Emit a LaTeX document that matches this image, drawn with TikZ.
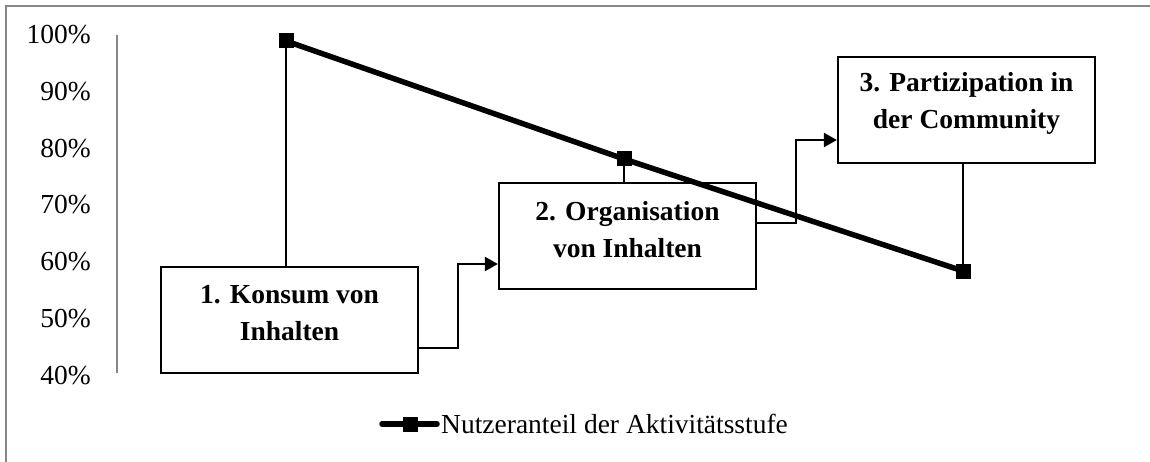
\documentclass[tikz,border=0pt]{standalone}
\usepackage{fontspec}
\setmainfont{Liberation Serif}
\usetikzlibrary{arrows.meta}
\tikzset{
  frameline/.style={draw=black!47, line width=2.2pt},
  axisline/.style={draw=black!47, line width=2.2pt},
  ticklab/.style={anchor=base east, inner sep=0pt, font=\fontsize{27.5}{33}\selectfont},
  stepbox/.style={draw=black, fill=white, line width=2.2pt, rectangle, minimum width=257pt, minimum height=106pt, inner sep=0pt},
  boxtext/.style={align=center, inner sep=0pt, font=\fontsize{27.5}{37}\selectfont\bfseries},
  dropline/.style={draw=black, line width=2.2pt},
  conn/.style={draw=black, line width=2.2pt, -{Triangle[length=13pt,width=14pt]}},
  dataline/.style={draw=black, line width=5.5pt},
  marker/.style={rectangle, fill=black, minimum size=15pt, inner sep=0pt},
  legline/.style={draw=black, line width=5.5pt, line cap=round},
  legtext/.style={anchor=base west, inner sep=0pt, font=\fontsize{27.5}{33}\selectfont}
}
\begin{document}
\begin{tikzpicture}[x=1pt,y=-1pt]
\useasboundingbox (0,0) rectangle (1150,462);
\fill[white] (0,0) rectangle (1150,462);
\draw[frameline] (6,6) rectangle (1170,480);
% axis
\draw[axisline] (117,35) -- (117,373);
\node[ticklab] (l100) at (91,44) {100\%};
\node[ticklab] (l90) at (91,100.7) {90\%};
\node[ticklab] (l80) at (91,157.3) {80\%};
\node[ticklab] (l70) at (91,214) {70\%};
\node[ticklab] (l60) at (91,270.7) {60\%};
\node[ticklab] (l50) at (91,327.3) {50\%};
\node[ticklab] (l40) at (91,384) {40\%};
% data points
\node[marker] (p1) at (286,41) {};
\node[marker] (p2) at (624,159) {};
\node[marker] (p3) at (963,271) {};
% boxes
\node[stepbox] (b1) at (289.5,320) {};
\node[stepbox] (b2) at (627.5,236) {};
\node[stepbox] (b3) at (966.5,110) {};
% drop lines
\draw[dropline] (p1.center) -- (p1.center |- b1.north);
\draw[dropline] (p2.center) -- (p2.center |- b2.north);
\draw[dropline] (p3.center) -- (p3.center |- b3.south);
% redraw boxes on top of drop lines
\node[stepbox] at (b1.center) {};
\node[stepbox] at (b2.center) {};
\node[stepbox] at (b3.center) {};
\node[boxtext] (t1) at (289.5,313.5) {1. Konsum von\\Inhalten};
\node[boxtext] (t2) at (627.5,229.5) {2. Organisation\\von Inhalten};
\node[boxtext] (t3) at (966.5,103.5) {3. Partizipation in\\der Community};
% connectors
\draw[conn] ([yshift=-28pt]b1.east) -- ++(39,0) |- ([yshift=-28pt]b2.west);
\draw[conn] ([yshift=13pt]b2.east) -- ++(39,0) |- ([yshift=-30pt]b3.west);
% data line
\draw[dataline] (p1.center) -- (p2.center) -- (p3.center);
\node[marker] at (p1.center) {};
\node[marker] at (p2.center) {};
\node[marker] at (p3.center) {};
% legend
\coordinate (lg1) at (382,424);
\coordinate (lg2) at (437,424);
\draw[legline] (lg1) -- (lg2);
\node[marker] (lm) at (410,424) {};
\node[legtext] (lt) at (441,433) {Nutzeranteil der Aktivitätsstufe};
\end{tikzpicture}
\end{document}
